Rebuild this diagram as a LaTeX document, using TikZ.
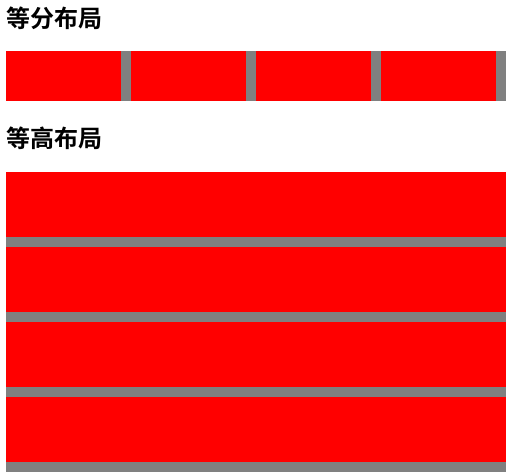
\documentclass[tikz,border=0pt]{standalone}
\usepackage{fontspec}
\newfontfamily\cjk{Noto Sans CJK SC}[BoldFont={Noto Sans CJK SC Bold}]
\definecolor{itemred}{RGB}{255,0,0}
\definecolor{gapgray}{RGB}{128,128,128}
\begin{document}
\begin{tikzpicture}[x=1pt,y=-1pt,
  heading/.style={anchor=base west,inner sep=0pt,font=\cjk\bfseries\fontsize{24}{28}\selectfont},
  gapbox/.style={fill=gapgray},
  itembox/.style={fill=itemred}]
\useasboundingbox (0,0) rectangle (519,476);
\node[heading] (t1) at (6,27.5) {等分布局};
\node[heading] (t2) at (6,147.5) {等高布局};
% equal-width row
\fill[gapbox] (6,51) rectangle (506,101);
\foreach \i in {0,1,2,3}{
  \fill[itembox] ({6+125*\i},51) rectangle ({121+125*\i},101);
}
% equal-height column
\fill[gapbox] (6,172) rectangle (506,472);
\foreach \i in {0,1,2,3}{
  \fill[itembox] (6,{172+75*\i}) rectangle (506,{237+75*\i});
}
\end{tikzpicture}
\end{document}
